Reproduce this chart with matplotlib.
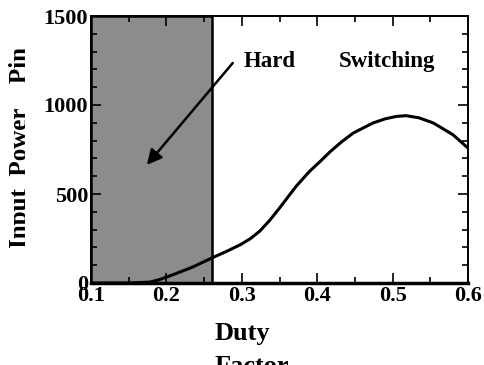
import matplotlib
matplotlib.use("Agg")
import matplotlib.pyplot as plt
from matplotlib.ticker import MultipleLocator
from matplotlib.transforms import Bbox

# Input power vs. duty factor
duty = [0.10, 0.15, 0.178, 0.19, 0.209, 0.235, 0.26, 0.28, 0.298, 0.311,
        0.324, 0.337, 0.35, 0.372, 0.39, 0.404, 0.417, 0.432, 0.448, 0.474,
        0.49, 0.505, 0.518, 0.535, 0.554, 0.58, 0.60]
power = [0, 0, 5, 18, 47, 90, 140, 178, 215, 248,
         292, 352, 421, 543, 628, 683, 737, 792, 843, 899,
         922, 936, 940, 928, 899, 833, 758]

# Hard-switching region on the duty axis
hard_region = [0.10, 0.26]

x_ticks = [0.1, 0.2, 0.3, 0.4, 0.5, 0.6]
y_ticks = [0, 500, 1000, 1500]

plt.rcParams["font.family"] = ["Liberation Serif", "DejaVu Serif"]
plt.rcParams["font.weight"] = "bold"

W, H = 484, 365
fig = plt.figure(figsize=(W / 100, H / 100), dpi=100)
ax = fig.add_axes([91 / W, 1 - 283 / H, 377 / W, 267 / H])

ax.axvspan(hard_region[0], hard_region[1], facecolor="#8c8c8c",
           edgecolor="black", linewidth=1.8, zorder=1)
ax.plot(duty, power, color="black", linewidth=2.2, zorder=3,
        solid_joinstyle="round")

ax.set_xlim(0.1, 0.6)
ax.set_ylim(0, 1500)
ax.set_xticks(x_ticks)
ax.set_xticklabels([f"{v:.1f}" for v in x_ticks])
ax.set_yticks(y_ticks)
ax.xaxis.set_minor_locator(MultipleLocator(0.05))
ax.yaxis.set_minor_locator(MultipleLocator(100))

ax.tick_params(which="both", direction="in", top=True, right=True,
               labelsize=16, width=1.2, pad=2)
ax.tick_params(which="major", length=7)
ax.tick_params(which="minor", length=4)
for lbl in ax.get_xticklabels() + ax.get_yticklabels():
    lbl.set_fontweight("bold")

for s in ax.spines.values():
    s.set_linewidth(1.4)
ax.spines["bottom"].set_linewidth(2.5)

ax.annotate("", xy=(0.174, 663), xytext=(0.288, 1236),
            arrowprops=dict(arrowstyle="-|>,head_length=0.9,head_width=0.45",
                            color="black", linewidth=1.8,
                            shrinkA=0, shrinkB=0), zorder=4)
ax.text(0.302, 1247, "Hard", fontsize=16.5, fontweight="bold",
        ha="left", va="center")
ax.text(0.429, 1247, "Switching", fontsize=16.5, fontweight="bold",
        ha="left", va="center")

# two-line x-axis title, second line running off the bottom edge
fig.text(215 / W, 1 - 340 / H, "Duty", fontsize=19, fontweight="bold",
         ha="left", va="baseline")
fig.text(215 / W, 1 - 373 / H, "Factor", fontsize=19, fontweight="bold",
         ha="left", va="baseline")

# y-axis title, trimmed along its baseline side
ylab = fig.text(27 / W, 1 - 147 / H, "Input  Power    Pin", fontsize=18,
                fontweight="bold", rotation=90, rotation_mode="anchor",
                ha="center", va="baseline")
ylab.set_clip_box(Bbox.from_extents(0, 0, 24.5, H))
ylab.set_clip_on(True)

fig.savefig("out.png", dpi=100)
